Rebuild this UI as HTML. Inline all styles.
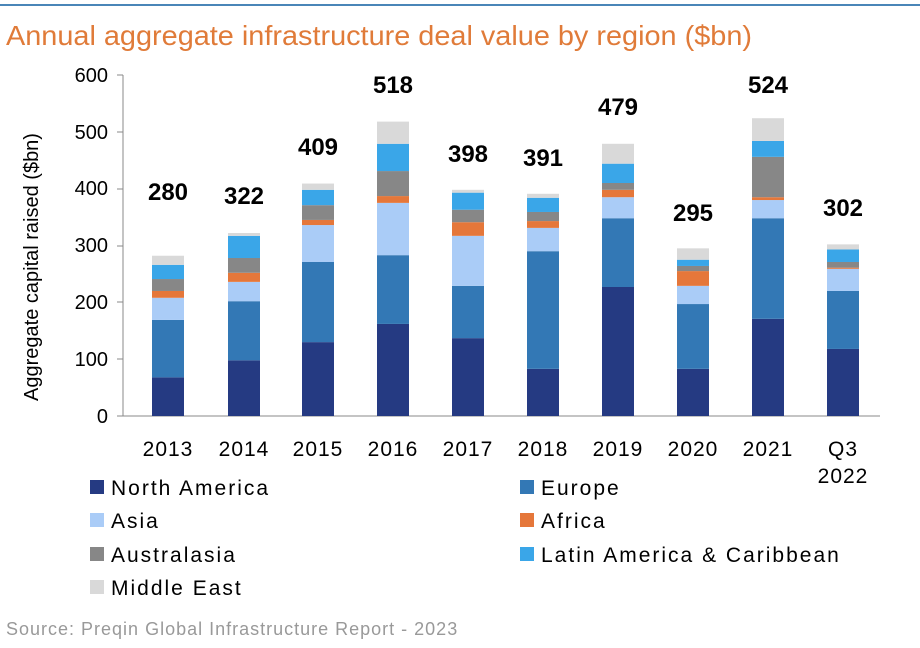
<!DOCTYPE html>
<html><head><meta charset="utf-8"><style>
html,body{margin:0;padding:0;background:#fff;}
svg{display:block;font-family:"Liberation Sans",sans-serif;}
</style></head><body>
<svg width="920" height="648" viewBox="0 0 920 648" xmlns="http://www.w3.org/2000/svg">
<line x1="0" y1="5" x2="920" y2="5" stroke="#4a86b8" stroke-width="2"/>
<text x="6" y="45" font-size="28" fill="#e07b39" textLength="746" lengthAdjust="spacingAndGlyphs">Annual aggregate infrastructure deal value by region ($bn)</text>
<g font-size="20" fill="#000" text-anchor="end">
<text x="108" y="423">0</text><text x="108" y="366">100</text><text x="108" y="309">200</text>
<text x="108" y="252">300</text><text x="108" y="195">400</text><text x="108" y="139">500</text><text x="108" y="82">600</text>
</g>
<g stroke="#888" stroke-width="1">
<line x1="123" y1="75" x2="123" y2="416"/>
<line x1="117" y1="416" x2="123" y2="416"/><line x1="117" y1="359" x2="123" y2="359"/><line x1="117" y1="302" x2="123" y2="302"/><line x1="117" y1="246" x2="123" y2="246"/><line x1="117" y1="189" x2="123" y2="189"/><line x1="117" y1="132" x2="123" y2="132"/><line x1="117" y1="75" x2="123" y2="75"/>
<line x1="123" y1="416" x2="880" y2="416"/>
</g>
<text transform="translate(38,267) rotate(-90)" font-size="20" text-anchor="middle">Aggregate capital raised ($bn)</text>
<g id="bars"></g>
<g font-size="21" text-anchor="middle" letter-spacing="1">
<text x="168" y="456">2013</text><text x="244" y="456">2014</text><text x="318" y="456">2015</text><text x="393" y="456">2016</text><text x="468" y="456">2017</text><text x="543" y="456">2018</text><text x="618" y="456">2019</text><text x="693" y="456">2020</text><text x="768" y="456">2021</text><text x="843" y="456">Q3</text><text x="843" y="483">2022</text>
</g>
<g font-size="24" font-weight="bold" text-anchor="middle">
<text x="168" y="200">280</text><text x="244" y="204">322</text><text x="318" y="155">409</text><text x="393" y="93">518</text><text x="468" y="162">398</text><text x="543" y="166">391</text><text x="618" y="115">479</text><text x="693" y="221">295</text><text x="768" y="93">524</text><text x="843" y="216">302</text>
</g>
<g font-size="21" letter-spacing="2">
<rect x="90" y="480" width="14" height="14" fill="#253a82"/><text x="111" y="495">North America</text>
<rect x="520" y="480" width="14" height="14" fill="#3378b5"/><text x="541" y="495">Europe</text>
<rect x="90" y="513" width="14" height="14" fill="#aaccf7"/><text x="111" y="528">Asia</text>
<rect x="520" y="513" width="14" height="14" fill="#e5773a"/><text x="541" y="528">Africa</text>
<rect x="90" y="547" width="14" height="14" fill="#878787"/><text x="111" y="562">Australasia</text>
<rect x="520" y="547" width="14" height="14" fill="#3aa6e8"/><text x="541" y="562">Latin America &amp; Caribbean</text>
<rect x="90" y="580" width="14" height="14" fill="#d9d9d9"/><text x="111" y="595">Middle East</text>
</g>
<text x="6" y="635" font-size="18" fill="#999" letter-spacing="1">Source: Preqin Global Infrastructure Report - 2023</text>
<script>
var d=[[168,[68,169,208,220,241,266,282]],[244,[98,202,236,252,278,317,322]],[318,[130,271,336,345,371,398,409]],[393,[162,283,375,387,431,479,518]],[468,[137,229,317,341,363,393,398]],[543,[83,290,331,343,359,384,391]],[618,[227,348,385,398,410,444,479]],[693,[83,197,229,255,264,275,295]],[768,[171,348,380,385,456,484,524]],[843,[118,220,259,261,271,293,302]]];
var c=["#253a82","#3378b5","#aaccf7","#e5773a","#878787","#3aa6e8","#d9d9d9"];
var g=document.getElementById("bars"),ns="http://www.w3.org/2000/svg";
d.forEach(function(b){var p=0;b[1].forEach(function(v,i){var r=document.createElementNS(ns,"rect");var y0=416-p*0.5683,y1=416-v*0.5683;r.setAttribute("x",b[0]-16);r.setAttribute("width",32);r.setAttribute("y",y1);r.setAttribute("height",y0-y1);r.setAttribute("fill",c[i]);g.appendChild(r);p=v;});});
</script>
</svg>
</body></html>
